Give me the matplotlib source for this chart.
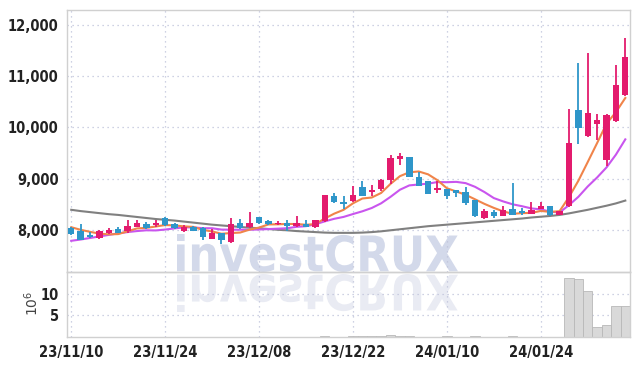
import numpy as np
import pandas as pd
import matplotlib
matplotlib.use('Agg')
import matplotlib.pyplot as plt
from matplotlib.textpath import TextPath
from matplotlib.patches import PathPatch
from matplotlib.font_manager import FontProperties
from matplotlib.transforms import Affine2D


# daily candles, 60 trading days (23/11/10 .. 24/02)
opens = [8030, 7980, 7900, 7830, 7930, 8020, 7967, 8060, 8111, 8098,
         8229, 8111, 7967, 8046, 8033, 7824, 7928, 7758, 8124, 8046,
         8241, 8170, 8104, 8137, 8070, 8118, 8046, 8163, 8653, 8535,
         8555, 8830, 8731, 8804, 8980, 9385, 9418, 9033, 8947, 8778,
         8797, 8771, 8731, 8588, 8222, 8339, 8274, 8405, 8366, 8314,
         8405, 8457, 8294, 8457, 10339, 9830, 10064, 9360, 10123, 10633]
highs = [8045, 8110, 7960, 7990, 8030, 8060, 8200, 8190, 8150, 8190,
         8240, 8137, 8085, 8070, 8059, 8007, 7940, 8222, 8215, 8347,
         8250, 8190, 8170, 8190, 8260, 8190, 8200, 8680, 8719, 8653,
         8862, 8947, 8876, 8985, 9457, 9502, 9430, 9131, 8960, 8947,
         8800, 8775, 8836, 8590, 8405, 8385, 8470, 8915, 8418, 8549,
         8536, 8460, 8365, 10366, 11254, 11450, 10253, 10260, 11215, 11738]
lows = [7900, 7795, 7840, 7820, 7920, 7935, 7940, 8055, 8007, 8059,
        8080, 8025, 7960, 7975, 7804, 7815, 7719, 7750, 8025, 8040,
        8120, 8098, 8098, 7985, 8060, 8045, 8040, 8160, 8530, 8405,
        8550, 8650, 8653, 8752, 8889, 9261, 9030, 8845, 8695, 8725,
        8607, 8640, 8484, 8255, 8215, 8222, 8270, 8285, 8288, 8310,
        8400, 8275, 8290, 8440, 9666, 9820, 9750, 9240, 10110, 10620]
closes = [7915, 7804, 7850, 7980, 8005, 7940, 8072, 8137, 8033, 8137,
          8085, 8033, 8046, 7980, 7850, 7928, 7810, 8111, 8033, 8137,
          8124, 8118, 8125, 8065, 8130, 8052, 8183, 8673, 8535, 8505,
          8686, 8653, 8771, 8980, 9392, 9437, 9033, 8850, 8700, 8817,
          8653, 8720, 8523, 8261, 8372, 8261, 8378, 8288, 8327, 8392,
          8457, 8281, 8359, 9700, 9986, 10288, 10136, 10248, 10822, 11371]
# volume in millions
volume = [0.02, 0.02, 0.02, 0.02, 0.02, 0.02, 0.02, 0.02, 0.02, 0.02,
          0.02, 0.02, 0.02, 0.02, 0.02, 0.02, 0.02, 0.02, 0.02, 0.02,
          0.02, 0.02, 0.02, 0.02, 0.02, 0.02, 0.02, 0.15, 0.02, 0.02,
          0.12, 0.15, 0.15, 0.15, 0.35, 0.2, 0.2, 0.02, 0.02, 0.02,
          0.15, 0.02, 0.02, 0.15, 0.02, 0.02, 0.02, 0.15, 0.02, 0.02,
          0.02, 0.02, 0.02, 13.6, 13.3, 10.7, 2.3, 2.8, 7.2, 7.2]

# moving average values before a full window is available
ma5_head = [8050, 8000, 7960, 7925]
ma10_head = [7785, 7810, 7840, 7870, 7900, 7930, 7955, 7975, 7990]
ma60 = [8390, 8365, 8345, 8325, 8305, 8290, 8270, 8250, 8230, 8210,
        8195, 8180, 8160, 8140, 8120, 8100, 8085, 8070, 8055, 8040,
        8030, 8015, 8000, 7990, 7975, 7965, 7955, 7945, 7940, 7940,
        7940, 7945, 7955, 7970, 7990, 8010, 8030, 8050, 8070, 8085,
        8100, 8115, 8130, 8145, 8160, 8175, 8190, 8205, 8220, 8240,
        8255, 8270, 8290, 8320, 8355, 8390, 8430, 8470, 8515, 8570]

tick_labels = ['23/11/10', '23/11/24', '23/12/08', '23/12/22', '24/01/10', '24/01/24']

UP = '#e31b6d'
DOWN = '#2e96c9'
GRID = '#bfc3da'
SPINE = '#d0d0d0'


def main():
    df = pd.DataFrame({'open': opens, 'high': highs, 'low': lows,
                       'close': closes, 'vol': volume})
    x = np.arange(len(df))

    ma5 = df['close'].rolling(5).mean().to_numpy()
    ma5[:len(ma5_head)] = ma5_head
    ma10 = df['close'].rolling(10).mean().to_numpy()
    ma10[:len(ma10_head)] = ma10_head

    fig = plt.figure(figsize=(6.39, 3.66), dpi=100, facecolor='white')
    ax = fig.add_axes([67 / 639, 94 / 366, 563 / 639, 262 / 366])
    axv = fig.add_axes([67 / 639, 29 / 366, 563 / 639, 65 / 366], sharex=ax)

    tick_font = FontProperties(family=['DejaVu Sans'], weight='bold',
                               stretch='condensed', size=10.5)

    # candles
    colors = np.where(df['close'] >= df['open'], UP, DOWN)
    body_lo = np.minimum(df['open'], df['close'])
    body_h = np.maximum(np.abs(df['close'] - df['open']), 12)
    ax.vlines(x, df['low'], df['high'], colors=colors, lw=1.3, zorder=3)
    ax.bar(x, body_h, bottom=body_lo, width=0.68, color=colors, zorder=4)

    ax.plot(x, ma60, color='#808080', lw=1.5, zorder=2)
    ax.plot(x, ma10, color='#c955ee', lw=1.5, zorder=2)
    ax.plot(x, ma5, color='#f0844a', lw=1.5, zorder=2)

    ax.set_ylim(7176, 12290)
    ax.set_xlim(-0.45, 59.5)
    ax.set_yticks([8000, 9000, 10000, 11000, 12000])
    ax.set_yticklabels(['{:,}'.format(v) for v in [8000, 9000, 10000, 11000, 12000]])

    # volume
    axv.bar(x, df['vol'], width=1.0, color='#d9d9d9', edgecolor='#b8b8b8',
            linewidth=0.6, zorder=2)
    axv.set_ylim(0, 15)
    axv.set_yticks([5, 10])
    axv.set_ylabel('10$^6$', fontsize=10, color='#444444')
    axv.yaxis.set_label_coords(-0.046, 0.52)
    axv.set_xticks(range(0, 60, 10))
    axv.set_xticklabels(tick_labels)

    for a in (ax, axv):
        a.set_zorder(1)
        a.patch.set_visible(False)
        a.grid(True, linestyle=(0, (1, 3)), color=GRID, lw=0.9, zorder=0)
        a.set_axisbelow(True)
        a.tick_params(length=0, pad=6, colors='#222222')
        for lbl in a.get_yticklabels() + a.get_xticklabels():
            lbl.set_fontproperties(tick_font)
        for s in a.spines.values():
            s.set_color(SPINE)
            s.set_linewidth(1.0)
    ax.tick_params(labelbottom=False)

    # watermark with reflection
    tp = TextPath((0, 0), 'investCRUX', size=50,
                  prop=FontProperties(family='DejaVu Sans', weight='bold'))
    bb = tp.get_extents()
    sx = 281 / bb.width
    sy = 38 / bb.height
    up = Affine2D().translate(-bb.x0, -bb.y0).scale(sx, sy).translate(177, 366 - 272)
    fig.add_artist(PathPatch(tp, transform=up, fc='#d3d9ea', ec='none', zorder=0))
    dn = Affine2D().translate(-bb.x0, -bb.y0).scale(sx, -sy).translate(177, 366 - 274)
    fig.add_artist(PathPatch(tp, transform=dn, fc='#e9ebf3', ec='none', zorder=0))

    fig.savefig('out.png', dpi=100, facecolor='white')


if __name__ == "__main__":
    main()
